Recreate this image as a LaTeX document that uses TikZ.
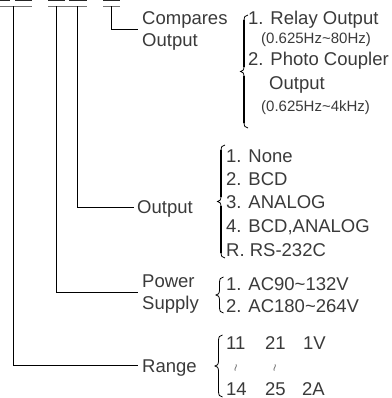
\documentclass[tikz,border=0pt]{standalone}
\usepackage{fontspec}
\setmainfont{Liberation Sans}
\definecolor{txt}{HTML}{3A3A3A}
\newcommand\calbrace[3]{% arm x, top y, bottom y
  \pgfmathsetmacro\cbmid{(#2+#3)/2}
  \draw[line width=0.8pt,black] (#1,#2) .. controls (#1-3,#2) and (#1-4,#2+2) .. (#1-4,#2+6)
    -- (#1-4,\cbmid-5) .. controls (#1-4,\cbmid-1.5) and (#1-5.5,\cbmid) .. (#1-7.5,\cbmid)
    .. controls (#1-5.5,\cbmid) and (#1-4,\cbmid+1.5) .. (#1-4,\cbmid+5)
    -- (#1-4,#3-6) .. controls (#1-4,#3-2) and (#1-3,#3) .. (#1,#3);
  \draw[line width=1.8pt,black] (#1-4,#2+5) -- (#1-4,\cbmid-4.5) (#1-4,\cbmid+4.5) -- (#1-4,#3-5);
}
\begin{document}
\begin{tikzpicture}[x=1pt,y=-1pt,
  lbl/.style={anchor=base west,inner sep=0pt,font=\fontsize{18.5}{22}\selectfont,text=txt},
  sml/.style={anchor=base west,inner sep=0pt,font=\fontsize{15}{18}\selectfont,text=txt},
  wavy/.style={anchor=center,inner sep=0pt,font=\fontsize{13}{14}\selectfont,text=black!60},
  wire/.style={line width=0.9pt,black},
  digitmark/.style={line width=3pt,black!85},
  grpbar/.style={line width=1pt,black!55}]
\useasboundingbox (0,0) rectangle (391,398);
\clip (0,0) rectangle (391,398);
% top digit marks
\draw[digitmark] (-5,0) -- (10,0);
\draw[digitmark] (15,0) -- (32,0);
\draw[digitmark] (48,0) -- (65,0);
\draw[digitmark] (69,0) -- (87,0);
\draw[digitmark] (103,0) -- (120,0);
\draw[grpbar] (0,6.5) -- (32,6.5);
\draw[grpbar] (48,6.5) -- (87,6.5);
\draw[grpbar] (103,6.5) -- (120,6.5);
\coordinate (t1) at (13,6.5);
\coordinate (t2) at (56,6.5);
\coordinate (t3) at (77,6.5);
\coordinate (t4) at (111,6.5);
% labels
\node[lbl] (cmpA) at (142,25) {Compares};
\node[lbl] (cmpB) at (142,47) {Output};
\node[lbl] (outL) at (137,213) {Output};
\node[lbl] (pwA) at (142,287) {Power};
\node[lbl] (pwB) at (142,309) {Supply};
\node[lbl] (rng) at (142,372) {Range};
\coordinate (e4) at (138,29);
\coordinate (e3) at (134,207);
\coordinate (e2) at (138,292);
\coordinate (e1) at (138,365);
\draw[wire] (t4) |- (e4);
\draw[wire] (t3) |- (e3);
\draw[wire] (t2) |- (e2);
\draw[wire] (t1) |- (e1);
% compares options
\calbrace{248}{15}{128}
\node[lbl] (c1) at (248,25) {1. Relay Output};
\node[sml] (c1f) at (261,44) {(0.625Hz\textasciitilde80Hz)};
\node[lbl] (c2) at (248,66) {2. Photo Coupler};
\node[lbl] (c2b) at (269,90) {Output};
\node[sml] (c2f) at (261,112) {(0.625Hz\textasciitilde4kHz)};
% output options
\calbrace{225}{145}{258}
\node[lbl] (o1) at (226,162) {1. None};
\node[lbl] (o2) at (226,185) {2. BCD};
\node[lbl] (o3) at (226,208) {3. ANALOG};
\node[lbl] (o4) at (226,232) {4. BCD,ANALOG};
\node[lbl] (o5) at (226,256) {R. RS-232C};
% power options
\calbrace{223.5}{277}{313}
\node[lbl] (p1) at (226,290) {1. AC90\textasciitilde132V};
\node[lbl] (p2) at (226,312) {2. AC180\textasciitilde264V};
% range options
\calbrace{222.5}{335}{397}
\node[lbl] (r11) at (226,349) {11};
\node[lbl] (r21) at (265,349) {21};
\node[lbl] (r1v) at (303,349) {1V};
\node[wavy] (w1) at (237.5,368) {\rotatebox{80}{\textasciitilde}};
\node[wavy] (w2) at (276.5,368) {\rotatebox{80}{\textasciitilde}};
\node[lbl] (r14) at (226,395) {14};
\node[lbl] (r25) at (265,395) {25};
\node[lbl] (r2a) at (302,395) {2A};
\end{tikzpicture}
\end{document}
